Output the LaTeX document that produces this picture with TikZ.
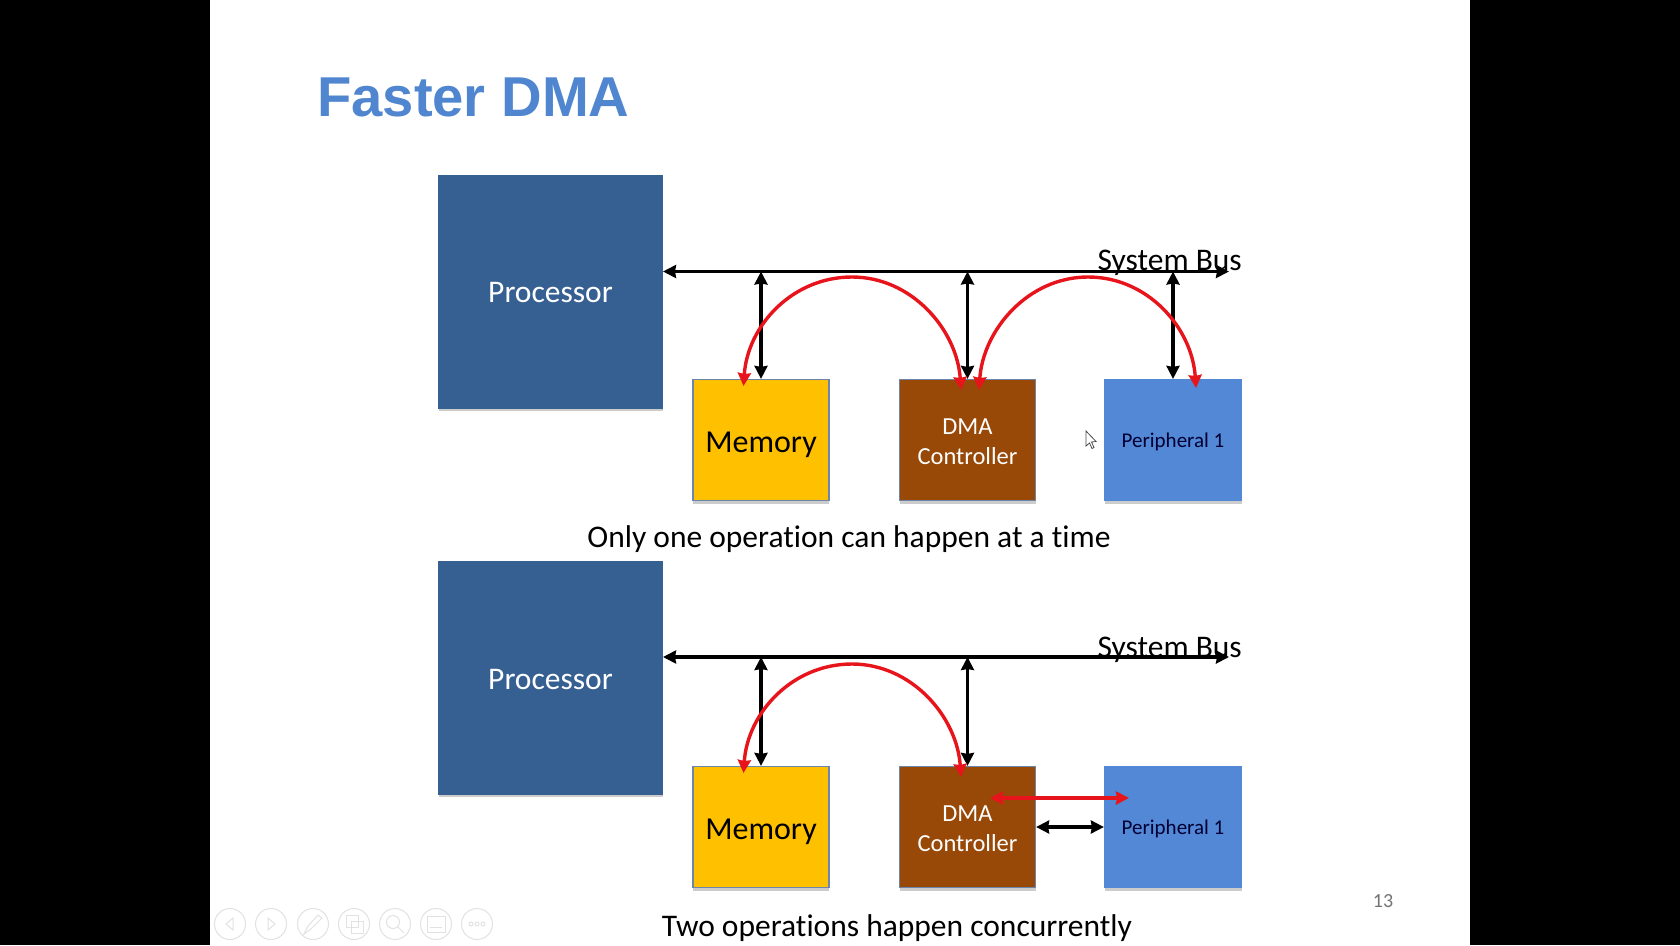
\documentclass[tikz,border=0pt]{standalone}
\usepackage{fontspec}
\setmainfont[Ligatures=NoCommon]{Carlito}
\newfontfamily\titlefont{Liberation Sans}
\usetikzlibrary{arrows.meta,shadows,positioning}
\definecolor{boxline}{HTML}{6A86AA}
\definecolor{procblue}{HTML}{376092}
\definecolor{memyellow}{HTML}{FFC000}
\definecolor{dmabrown}{HTML}{984807}
\definecolor{periblue}{HTML}{5288D5}
\definecolor{titleblue}{HTML}{4F86CF}
\definecolor{arcred}{HTML}{E8141C}
\definecolor{icongray}{HTML}{E2E2E2}
\newcommand{\lowertext}[2]{\raisebox{-#1}[\height][\depth]{#2}}
\tikzset{
  x=1pt,y=-1pt,
  unit box/.style={rectangle,inner sep=0pt,align=center,draw=boxline,line width=1.2pt,
    drop shadow={shadow xshift=0pt,shadow yshift=-3pt,opacity=.2,fill=black}},
  procbox/.style={unit box,draw=procblue,fill=procblue,text=white,minimum width=224pt,minimum height=232pt,font=\fontsize{31.5}{36}\selectfont},
  membox/.style={unit box,fill=memyellow,text=black,minimum width=136pt,minimum height=121pt,font=\fontsize{32}{38}\selectfont},
  dmabox/.style={unit box,fill=dmabrown,text=white,minimum width=136pt,minimum height=121pt,font=\fontsize{24.5}{30}\selectfont},
  peribox/.style={unit box,draw=periblue,fill=periblue,text=black!80!blue,minimum width=137pt,minimum height=121pt,font=\fontsize{21}{24}\selectfont},
  busline/.style={black,line width=3.4pt,{Stealth[length=13pt,width=13pt,inset=1pt]}-{Stealth[length=13pt,width=13pt,inset=1pt]}},
  linkline/.style={black,line width=3.2pt,{Stealth[length=13pt,width=13pt,inset=1pt]}-{Stealth[length=13pt,width=13pt,inset=1pt]}},
  redline/.style={arcred,line width=3.4pt,{Stealth[length=13pt,width=13pt,inset=1pt]}-{Stealth[length=13pt,width=13pt,inset=1pt]}},
  buslabel/.style={anchor=east,inner sep=0pt,font=\fontsize{31.5}{36}\selectfont},
  caption/.style={inner sep=0pt,font=\fontsize{31.5}{36}\selectfont},
  iconring/.style={circle,draw=icongray,line width=1pt,minimum size=31pt,inner sep=0pt},
  iconmark/.style={draw=icongray,line width=1pt},
}
\begin{document}
\begin{tikzpicture}
\useasboundingbox (0,0) rectangle (1680,945);
\fill[black] (0,0) rectangle (1680,945);
\fill[white] (210,0) rectangle (1470,945);

\node[anchor=west,inner sep=0pt,text=titleblue,font=\titlefont\bfseries\fontsize{56.2}{60}\selectfont] (title) at (317,97) {Faster DMA};

% upper diagram
\node[procbox] (p1) at (550.5,292) {\lowertext{1pt}{Processor}};
\node[membox] (m1) at (761,440) {\lowertext{5pt}{Memory}};
\node[dmabox] (d1) at (967.5,440) {\lowertext{2pt}{DMA}\\\lowertext{2pt}{Controller}};
\node[peribox] (r1) at (1173,440) {\lowertext{2pt}{Peripheral 1}};
\coordinate (b1l) at (663,271.5);
\coordinate (b1r) at (1229,271.5);
\draw[busline] (b1l) -- (b1r);
\draw[linkline] (m1.north |- b1l) -- (m1.north);
\draw[linkline] (d1.north |- b1l) -- (d1.north);
\draw[linkline] (r1.north |- b1l) -- (r1.north);
\node[buslabel] (s1) at (1242,262.5) {System Bus};
\coordinate (a1a) at (743.5,386);
\coordinate (a1t) at (852,277);
\coordinate (a1b) at (961,390);
\coordinate (a2a) at (979,390);
\coordinate (a2t) at (1088,277);
\coordinate (a2b) at (1196,388);
\draw[redline] (a1a) .. controls +(4,-60) and +(-60,0) .. (a1t) .. controls +(60,0) and +(-4,-60) .. (a1b);
\draw[redline] (a2a) .. controls +(4,-60) and +(-60,0) .. (a2t) .. controls +(60,0) and +(-4,-60) .. (a2b);
\node[caption] (c1) at (849,539) {Only one operation can happen at a time};

% lower diagram
\node[procbox] (p2) at (550.5,678) {\lowertext{1pt}{Processor}};
\node[membox] (m2) at (761,827) {\lowertext{5pt}{Memory}};
\node[dmabox] (d2) at (967.5,827) {\lowertext{2pt}{DMA}\\\lowertext{2pt}{Controller}};
\node[peribox] (r2) at (1173,827) {\lowertext{2pt}{Peripheral 1}};
\coordinate (b2l) at (663,657);
\coordinate (b2r) at (1229,657);
\draw[busline] (b2l) -- (b2r);
\draw[linkline] (m2.north |- b2l) -- (m2.north);
\draw[linkline] (d2.north |- b2l) -- (d2.north);
\draw[linkline] (d2.east) -- (r2.west);
\node[buslabel] (s2) at (1242,649.5) {System Bus};
\coordinate (a3a) at (743.5,773);
\coordinate (a3t) at (852,664);
\coordinate (a3b) at (961,777);
\coordinate (a4a) at (990,798);
\coordinate (a4b) at (1129,798);
\draw[redline] (a3a) .. controls +(4,-60) and +(-60,0) .. (a3t) .. controls +(60,0) and +(-4,-60) .. (a3b);
\draw[redline] (a4a) -- (a4b);
\node[caption] (c2) at (897,928) {Two operations happen concurrently};

\node[inner sep=0pt,text=black!55,font=\fontsize{20}{24}\selectfont] (pg) at (1383,901) {13};

% mouse pointer
\draw[black!70,fill=white,line width=.8pt] (1086,431) -- (1086,446) -- (1089.5,443) -- (1092,448.5) -- (1094,447.5) -- (1091.5,442) -- (1096,441.5) -- cycle;

% slide show toolbar
\node[iconring] (t1) at (230,924) {};
\node[iconring] (t2) at (271,924) {};
\node[iconring] (t3) at (313,924) {};
\node[iconring] (t4) at (354,924) {};
\node[iconring] (t5) at (395,924) {};
\node[iconring] (t6) at (436,924) {};
\node[iconring] (t7) at (477,924) {};
\draw[iconmark] (233,918) -- (226,924) -- (233,930) -- cycle;
\draw[iconmark] (268,918) -- (275,924) -- (268,930) -- cycle;
\draw[iconmark] (304,934) -- (308,926) -- (318,915) -- (322,918) -- (311,929) -- cycle;
\draw[iconmark] (346,915) rectangle (358,927);
\draw[iconmark] (351,921) rectangle (363,933);
\draw[iconmark] (393,922) circle (6.5pt);
\draw[iconmark] (398,927) -- (404,933);
\draw[iconmark] (427,916) rectangle (445,932);
\draw[iconmark] (430,927) -- (442,927);
\draw[iconmark] (471,924) circle (2pt);
\draw[iconmark] (477,924) circle (2pt);
\draw[iconmark] (483,924) circle (2pt);
\end{tikzpicture}
\end{document}
